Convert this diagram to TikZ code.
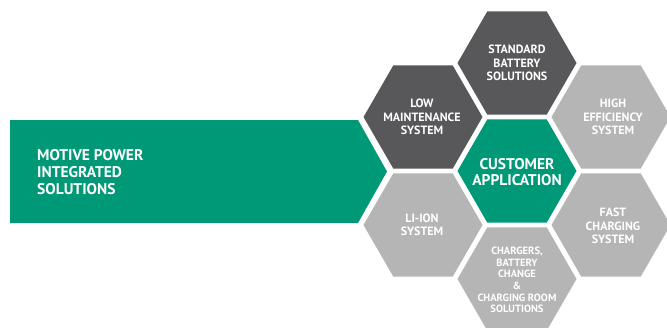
\documentclass[tikz,border=0pt]{standalone}
\usepackage{fontspec}
\setmainfont{PT Sans}
\definecolor{mpgreen}{HTML}{009977}
\definecolor{hexdark}{HTML}{58585A}
\definecolor{hexlight}{HTML}{B5B5B5}
\tikzset{
  hexlabel/.style={text=white, font=\bfseries\fontsize{12}{13.5}\selectfont, align=center, inner sep=0pt},
  biglabel/.style={text=white, font=\bfseries\fontsize{15.5}{15.5}\selectfont, align=center, inner sep=0pt},
  smalllabel/.style={text=white, font=\bfseries\fontsize{10.5}{11.6}\selectfont, align=center, inner sep=0pt},
  arrowlabel/.style={text=white, font=\bfseries\fontsize{15.5}{17}\selectfont, align=left, inner sep=0pt, anchor=west},
}
\newcommand{\hexshape}[3]{%
  \fill[#3] (#1,#2) ++(0:59.5pt) -- ++(120:59.5pt) -- ++(180:59.5pt) -- ++(240:59.5pt) -- ++(300:59.5pt) -- ++(0:59.5pt) -- cycle;}
\begin{document}
\begin{tikzpicture}[x=1pt,y=-1pt]
\useasboundingbox (0,0) rectangle (667,327);
\clip (0,0) rectangle (667,327);
\fill[white] (0,0) rectangle (667,327);
% arrow
\fill[mpgreen] (10,120) -- (358,120) -- (387,171.5) -- (358,223) -- (10,223) -- cycle;
\node[arrowlabel] (motive) at (37,172) {MOTIVE POWER\\INTEGRATED\\SOLUTIONS};
% hexagons
\hexshape{517}{63}{hexdark}
\hexshape{423}{117}{hexdark}
\hexshape{611}{117}{hexlight}
\hexshape{517}{171}{mpgreen}
\hexshape{423}{225}{hexlight}
\hexshape{611}{225}{hexlight}
\hexshape{517}{279}{hexlight}
\node[hexlabel] (standard) at (517,63) {STANDARD\\BATTERY\\SOLUTIONS};
\node[hexlabel] (lowmaint) at (422,117) {LOW\\MAINTENANCE\\SYSTEM};
\node[hexlabel] (higheff) at (613,117) {HIGH\\EFFICIENCY\\SYSTEM};
\node[biglabel] (customer) at (517,172) {CUSTOMER\\APPLICATION};
\node[hexlabel] (liion) at (422,225) {LI-ION\\SYSTEM};
\node[hexlabel] (fast) at (613,226) {FAST\\CHARGING\\SYSTEM};
\node[smalllabel] (chargers) at (517,280) {CHARGERS,\\BATTERY\\CHANGE\\\&\\CHARGING ROOM\\SOLUTIONS};
\end{tikzpicture}
\end{document}
